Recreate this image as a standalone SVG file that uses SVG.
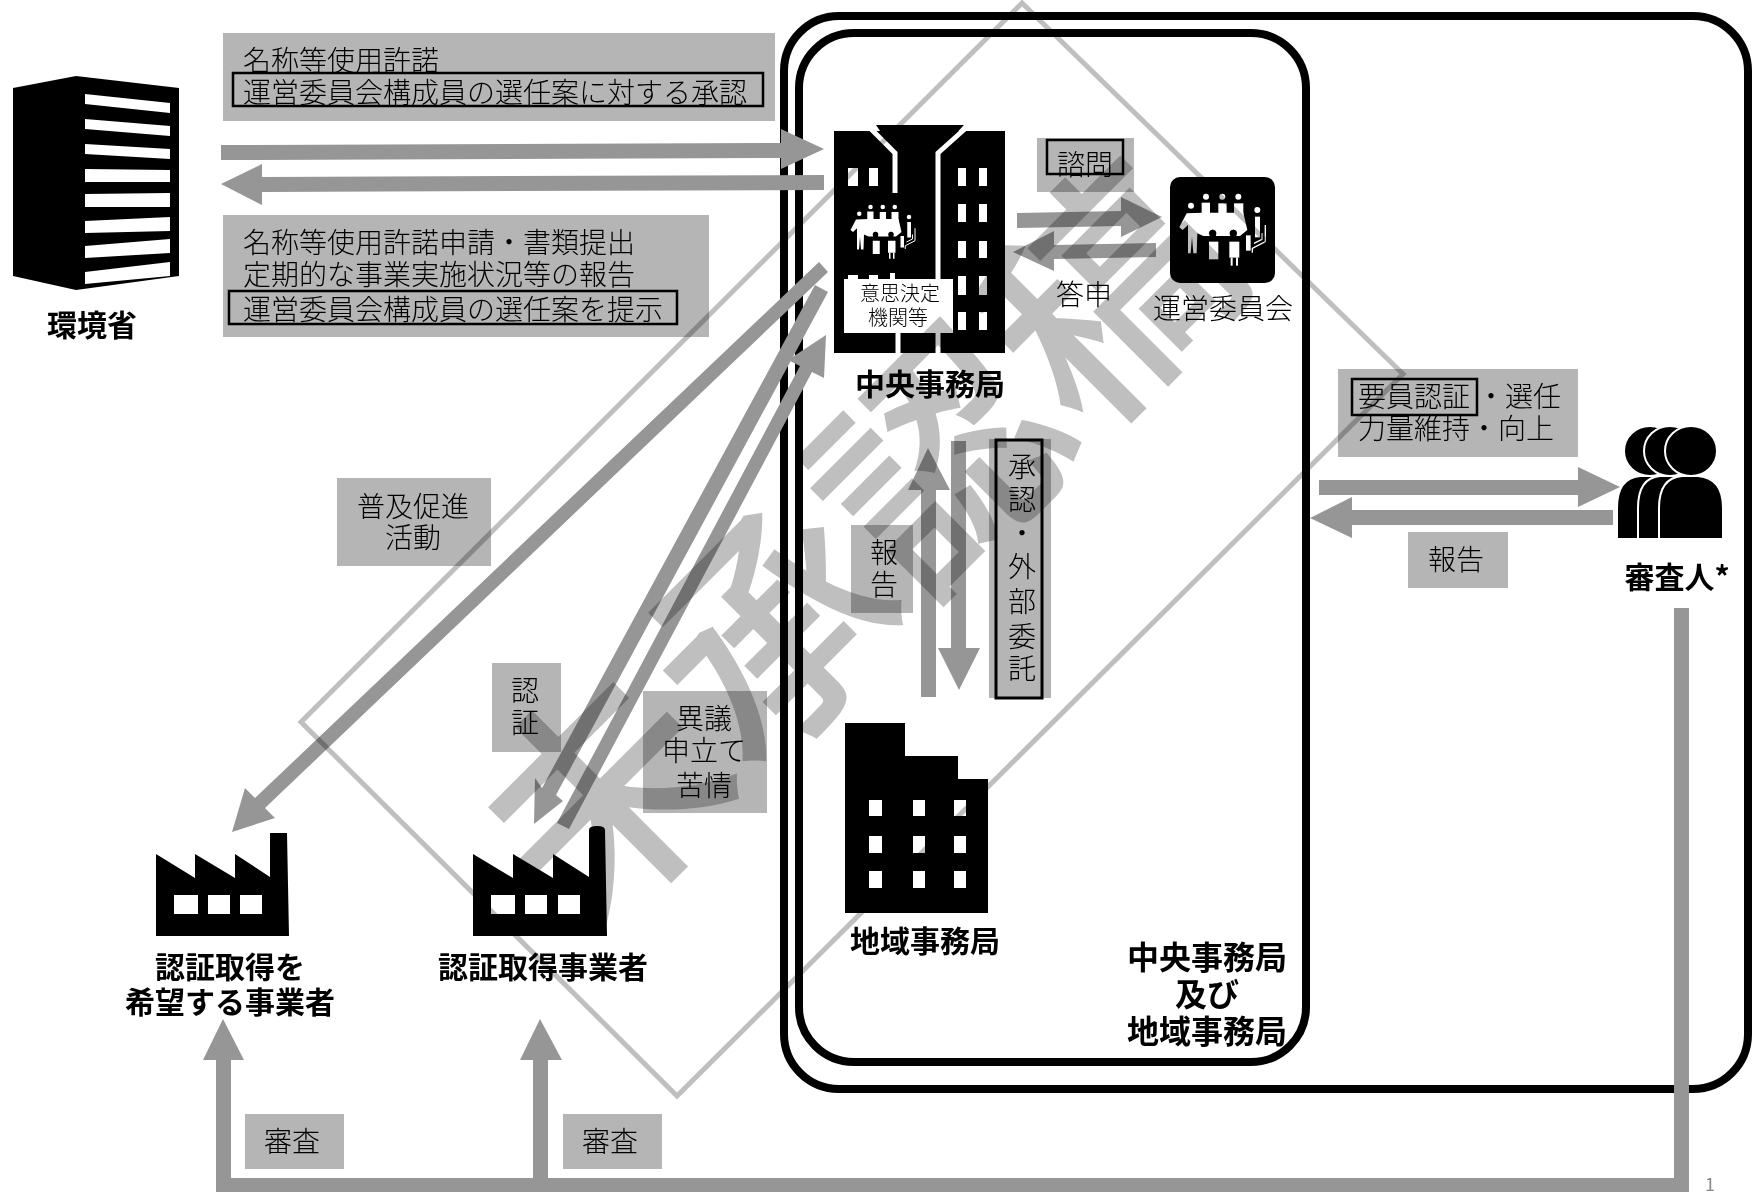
<svg xmlns="http://www.w3.org/2000/svg" width="1753" height="1192" viewBox="0 0 1753 1192">
<style>
text{font-family:"Noto Sans CJK JP","Liberation Sans",sans-serif;font-size:28px;font-weight:300;fill:#000;text-anchor:middle;dominant-baseline:central}
.l{text-anchor:start}
.b{font-weight:700;font-size:30px}
.s{font-size:20px}
.lab{fill:#b5b5b5}
.fr{fill:none;stroke:#000;stroke-width:2.5}
.k{fill:#000}
.w{fill:#fff}
.a{fill:#969696}
.box{fill:none;stroke:#000}
.wm{mix-blend-mode:multiply}
.wm text{font-size:238px;fill:#bfbfbf;font-weight:500}
</style>
<defs>
<g id="ppl">
<g fill="#fff">
<circle cx="93" cy="107" r="9"/><circle cx="138" cy="80" r="9"/><circle cx="187" cy="80" r="9"/><circle cx="235" cy="80" r="9"/><circle cx="292" cy="120" r="9"/>
<rect x="125" y="98" width="25" height="40"/><rect x="175" y="100" width="25" height="40"/><rect x="222" y="100" width="28" height="40"/>
<path d="M58,172L80,130L130,128H250L262,180L240,198H130L112,190L110,250H100L96,200L92,250H84V165L68,180Z"/>
<rect x="147" y="215" width="28" height="53"/><rect x="208" y="215" width="30" height="48"/><rect x="212" y="263" width="6" height="24"/><rect x="228" y="263" width="6" height="24"/>
<rect x="285" y="140" width="15" height="62"/><rect x="258" y="196" width="14" height="46"/>
</g>
<circle cx="158" cy="190" r="11" fill="#000"/><circle cx="220" cy="190" r="11" fill="#000"/>
<path d="M146,205H172L158,178ZM208,205H232L220,178Z" fill="#000"/>
<path d="M316,165V215L277,235V248M306,190V208L282,220" fill="none" stroke="#fff" stroke-width="4"/>
</g>
</defs>

<g id="outer-frame"><rect x="784" y="16" width="964" height="1073" rx="55" fill="#fff" stroke="#000" stroke-width="8"/></g>
<g id="inner-frame"><rect x="799" y="33" width="507" height="1029" rx="55" fill="none" stroke="#000" stroke-width="8"/></g>

<g id="moe">
<polygon class="k" points="13,88 76,76 179,88 179,276 76,290 13,276"/>
<g class="w">
<polygon points="85,94 170,103 170,113 85,104"/><polygon points="85,119 170,126 170,136 85,129"/><polygon points="85,144 170,149 170,159 85,154"/><polygon points="85,169 170,170 170,182 85,182"/><polygon points="85,194 170,193 170,207 85,207"/><polygon points="85,221 170,217 170,231 85,233"/><polygon points="85,246 170,239 170,253 85,258"/><polygon points="85,272 170,262 170,276 85,284"/>
</g>
<text x="92" y="323" class="b">環境省</text>
</g>

<g id="label-approval"><rect class="lab" x="223" y="33" width="552" height="88"/><text class="l" x="243" y="59">名称等使用許諾</text><rect class="fr" x="233" y="73" width="530" height="33"/><text class="l" x="243" y="91">運営委員会構成員の選任案に対する承認</text></g>
<g id="label-application"><rect class="lab" x="223" y="215" width="486" height="122"/><text class="l" x="243" y="241">名称等使用許諾申請・書類提出</text><text class="l" x="243" y="273">定期的な事業実施状況等の報告</text><rect class="fr" x="229" y="291" width="448" height="33"/><text class="l" x="243" y="308">運営委員会構成員の選任案を提示</text></g>

<g id="central-office">
<rect class="k" x="834" y="131" width="171" height="222"/>
<polygon class="k" points="876,125 964,125 938,153 895,153"/>
<path d="M869,127L895,153V193M967,127L938,153V353M898,333V353" fill="none" stroke="#fff" stroke-width="5"/>
<g class="w">
<rect x="848" y="168" width="10" height="18"/><rect x="869" y="168" width="9" height="18"/>
<rect x="958" y="168" width="8" height="18"/><rect x="979" y="168" width="8" height="18"/>
<rect x="958" y="204" width="8" height="18"/><rect x="979" y="204" width="8" height="18"/>
<rect x="958" y="241" width="8" height="17"/><rect x="979" y="241" width="8" height="17"/>
<rect x="958" y="276" width="8" height="19"/><rect x="979" y="276" width="8" height="19"/>
<rect x="958" y="312" width="8" height="18"/><rect x="979" y="312" width="8" height="18"/>
<rect x="848" y="275" width="10" height="6"/><rect x="869" y="275" width="9" height="6"/><rect x="890" y="273" width="5" height="8"/>
</g>
<use href="#ppl" transform="translate(836,187) scale(.25)"/>
<rect class="w" x="844" y="279" width="109" height="54"/>
<text class="s" x="900" y="292">意思決定</text><text class="s" x="898" y="316">機関等</text>
<text x="930" y="382" class="b">中央事務局</text>
</g>

<g id="committee">
<rect class="k" x="1170" y="177" width="105" height="106" rx="10"/>
<use href="#ppl" transform="translate(1160,170) scale(.3333)"/>
<text x="1223" y="307">運営委員会</text>
</g>

<g id="label-consult"><rect class="lab" x="1037" y="138" width="97" height="54"/><rect class="fr" x="1047" y="140" width="76" height="34"/><text x="1085" y="163">諮問</text></g>
<g id="label-answer"><text x="1084" y="293">答申</text></g>

<g id="label-report-v"><rect class="lab" x="851" y="525" width="62" height="88"/><text x="884" y="551">報</text><text x="884" y="583">告</text></g>
<g id="label-entrust"><rect class="lab" x="989" y="439" width="62" height="259"/><rect class="box" stroke-width="3" x="996" y="440" width="46" height="258"/>
<text x="1022" y="465">承</text><text x="1022" y="498">認</text><text x="1022" y="532">・</text><text x="1022" y="565">外</text><text x="1022" y="600">部</text><text x="1022" y="635">委</text><text x="1022" y="667">託</text></g>

<g id="regional-office">
<polygon class="k" points="845,723 905,723 905,756 958,756 958,779 988,779 988,913 845,913"/>
<g class="w"><rect x="869" y="800" width="13" height="16"/><rect x="913" y="800" width="12" height="16"/><rect x="954" y="800" width="12" height="16"/>
<rect x="869" y="836" width="13" height="17"/><rect x="913" y="836" width="12" height="17"/><rect x="954" y="836" width="12" height="17"/>
<rect x="869" y="871" width="13" height="17"/><rect x="913" y="871" width="12" height="17"/><rect x="954" y="871" width="12" height="17"/></g>
<text x="925" y="939" class="b">地域事務局</text>
</g>
<g id="frame-title"><text x="1207" y="955" class="b" style="font-size:32px">中央事務局</text><text x="1207" y="992" class="b" style="font-size:32px">及び</text><text x="1207" y="1029" class="b" style="font-size:32px">地域事務局</text></g>

<g id="label-examiner"><rect class="lab" x="1338" y="369" width="240" height="88"/><rect class="fr" x="1352" y="379" width="125" height="36"/><text class="l" x="1358" y="395">要員認証</text><text class="l" x="1477" y="395">・選任</text><text class="l" x="1358" y="427">力量維持・向上</text></g>
<g id="label-report-h"><rect class="lab" x="1408" y="532" width="100" height="56"/><text x="1456" y="558">報告</text></g>

<g id="examiners" stroke="#fff" stroke-width="2">
<ellipse class="k" cx="1650" cy="451" rx="26" ry="25"/>
<path class="k" d="M1617,539V508Q1617,478 1640,476H1665V539Z"/>
<ellipse class="k" cx="1670" cy="451" rx="26" ry="25"/>
<path class="k" d="M1638,539V508Q1638,478 1660,476H1685V539Z"/>
<ellipse class="k" cx="1691" cy="451" rx="26" ry="25"/>
<path class="k" d="M1659,539V508Q1659,478 1682,476H1698Q1723,478 1723,508V539Z"/>
</g>
<text id="examiner-label" x="1677" y="575" class="b">審査人*</text>

<g id="factory-prospect">
<polygon class="k" points="156,854 195,878 195,854 235,878 235,854 270,877 270,833 287,833 289,936 156,936"/>
<g class="w"><rect x="174" y="895" width="24" height="19"/><rect x="208" y="895" width="22" height="19"/><rect x="240" y="895" width="22" height="19"/></g>
<text x="230" y="965" class="b">認証取得を</text><text x="230" y="1000" class="b">希望する事業者</text>
</g>
<g id="factory-certified">
<path class="k" d="M473,854L513,878V854L553,878V854L589,877V830Q589,826 597,826Q605,826 605,830L607,936H473Z"/>
<g class="w"><rect x="491" y="895" width="24" height="19"/><rect x="525" y="895" width="22" height="19"/><rect x="558" y="895" width="22" height="19"/></g>
<text x="543" y="965" class="b">認証取得事業者</text>
</g>

<g id="label-promo"><rect class="lab" x="337" y="478" width="154" height="88"/><text x="413" y="505">普及促進</text><text x="413" y="536">活動</text></g>
<g id="label-cert"><rect class="lab" x="492" y="663" width="69" height="89"/><text x="525" y="689">認</text><text x="525" y="721">証</text></g>
<g id="label-objection"><rect class="lab" x="643" y="691" width="124" height="122"/><text x="704" y="717">異議</text><text x="704" y="749">申立て</text><text x="704" y="784">苦情</text></g>
<g id="label-exam1"><rect class="lab" x="245" y="1114" width="99" height="55"/><text x="292" y="1140">審査</text></g>
<g id="label-exam2"><rect class="lab" x="563" y="1114" width="99" height="55"/><text x="610" y="1140">審査</text></g>

<g id="connectors" class="a">
<polygon points="221,145 781,143 781,129 824,149 781,169 781,158 221,160"/>
<polygon points="221,184 262,164 262,177 824,175 824,190 262,192 262,205"/>
<polygon points="1017,213 1121,211 1121,197 1162,217 1121,237 1121,226 1017,228"/>
<polygon points="1013,252 1054,231 1054,245 1156,243 1156,257 1054,259 1054,271"/>
<polygon points="921,697 921,490 908,490 928,448 950,490 936,490 936,697"/>
<polygon points="951,441 966,441 966,648 980,648 959,690 938,648 951,648"/>
<polygon points="1319,480 1578,480 1578,467 1620,487 1578,507 1578,495 1319,495"/>
<polygon points="1310,518 1352,497 1352,510 1613,510 1613,525 1352,525 1352,538"/>
<polygon points="819,262 828,272 265,808 275,818 232,832 245,788 255,798"/>
<polygon points="815,285 828,292 556,795 563,801 534,824 535,778 542,788"/>
<polygon points="557,823 569,829 812,372 824,378 826,335 788,360 800,366"/>
<polygon points="1674,608 1689,608 1689,1192 216,1192 216,1060 203,1060 223,1019 244,1060 231,1060 231,1178 533,1178 533,1060 520,1060 540,1019 562,1060 548,1060 548,1178 1674,1178"/>
</g>

<text id="page-number" x="1710" y="1183" style="font-size:18px;font-weight:400;fill:#888">1</text>

<g id="watermark" class="wm">
<polygon points="1022,3 1403,374 677,1096 301,722" fill="none" stroke="#bfbfbf" stroke-width="5"/>
<text transform="translate(845,535) rotate(-45)" x="0" y="0">未承認稿</text>
</g>
</svg>
